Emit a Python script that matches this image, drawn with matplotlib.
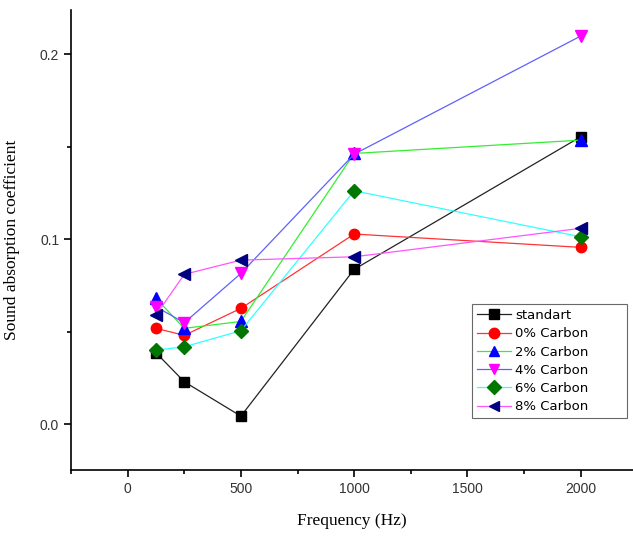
import matplotlib
matplotlib.use("Agg")
import matplotlib.pyplot as plt
from matplotlib.ticker import MultipleLocator

freq = [125, 250, 500, 1000, 2000]
standart = [0.0386, 0.0229, 0.0043, 0.0837, 0.1554]
carbon_0 = [0.0518, 0.0480, 0.0626, 0.1028, 0.0956]
carbon_2 = [0.0680, 0.0518, 0.0555, 0.1464, 0.1536]
carbon_4 = [0.0635, 0.0548, 0.0815, 0.1460, 0.2099]
carbon_6 = [0.0400, 0.0418, 0.0505, 0.1262, 0.1013]
carbon_8 = [0.0590, 0.0810, 0.0887, 0.0905, 0.1059]

labels = ["standart", "0% Carbon", "2% Carbon", "4% Carbon", "6% Carbon", "8% Carbon"]
series = [standart, carbon_0, carbon_2, carbon_4, carbon_6, carbon_8]
line_colors = ["#222222", "#ff3333", "#33ee33", "#6060ff", "#33ffff", "#ff55ff"]
marker_colors = ["black", "red", "blue", "magenta", "#007700", "#000080"]
markers = ["s", "o", "^", "v", "D", "<"]
msizes = [7, 7.5, 8, 8, 7, 8]

fig = plt.figure(figsize=(6.33, 5.37), dpi=100)
ax = fig.add_axes([0.1122, 0.1242, 0.8878, 0.8572])

for ys, lab, lc, mc, m, ms in zip(series, labels, line_colors, marker_colors, markers, msizes):
    ax.plot(freq, ys, color=lc, lw=0.9, marker=m, markersize=ms,
            markerfacecolor=mc, markeredgecolor=mc, label=lab)

ax.set_xlim(-250, 2231)
ax.set_ylim(-0.025, 0.224)
ax.spines["top"].set_visible(False)
ax.spines["right"].set_visible(False)
for s in ["left", "bottom"]:
    ax.spines[s].set_linewidth(1.2)

ax.xaxis.set_major_locator(MultipleLocator(500))
ax.xaxis.set_minor_locator(MultipleLocator(250))
ax.yaxis.set_major_locator(MultipleLocator(0.1))
ax.yaxis.set_minor_locator(MultipleLocator(0.05))
ax.tick_params(which="major", direction="out", length=5, width=1.2,
               labelsize=10, labelcolor="#333333")
ax.tick_params(which="minor", direction="out", length=3, width=1.2)
for t in ax.get_xticklabels() + ax.get_yticklabels():
    t.set_family("Liberation Sans")

ax.set_xlabel("Frequency (Hz)", family="Liberation Serif", fontsize=12.5, labelpad=12)
ax.set_ylabel("Sound absorption coefficient", family="Liberation Serif", fontsize=12.5, labelpad=14)

# legend box stretched to the reference width
leg = ax.legend(loc="lower left", bbox_to_anchor=(0.7135, 0.1136, 0.276, 0.252), mode="expand",
                frameon=True, fancybox=False,
                prop={"family": "DejaVu Sans", "size": 9.5}, handlelength=2.6,
                handletextpad=0.3, labelspacing=0.4, borderpad=0.35, borderaxespad=0)
leg.get_frame().set_edgecolor("#444444")
leg.get_frame().set_linewidth(0.8)
for h in leg.legend_handles:
    h.set_markersize(7.5)

fig.savefig("out.png", dpi=100)
